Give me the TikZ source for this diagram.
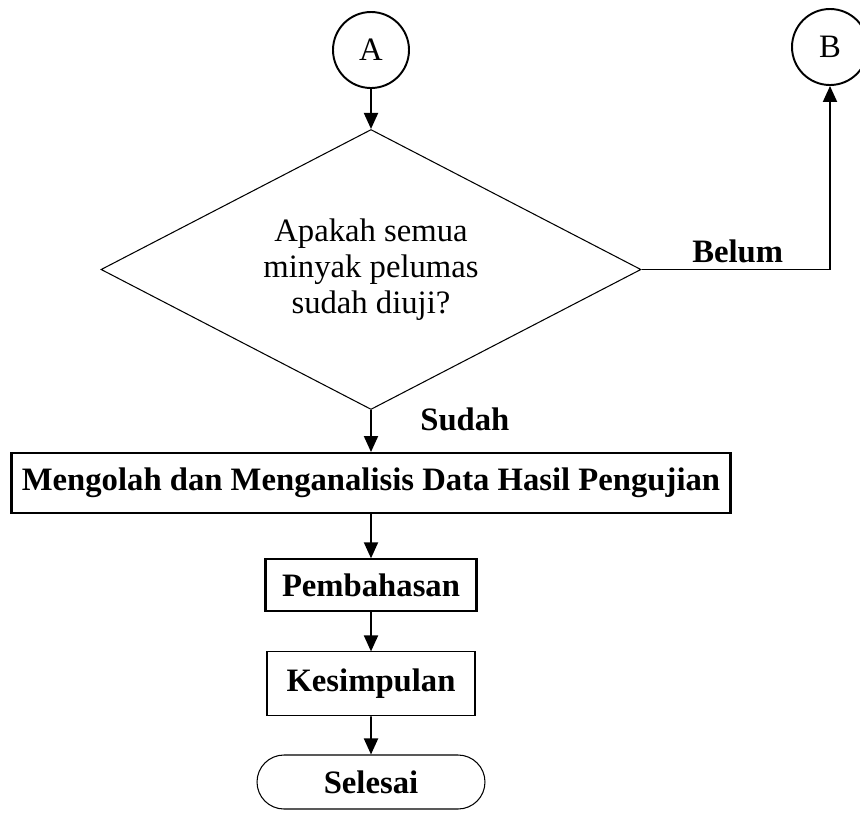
\documentclass[tikz,border=0pt]{standalone}
\usepackage{fontspec}
\setmainfont{Liberation Serif}
\usetikzlibrary{arrows.meta,shapes,positioning,calc}

\begin{document}
\begin{tikzpicture}[>={Triangle[length=0.32cm,width=0.28cm]},node distance=0.8cm,
  font=\fontsize{18.6}{20.5}\selectfont,
  conn/.style={circle,draw,line width=1.1pt,minimum size=1.52cm,inner sep=0pt},
  prosesbox/.style={draw,rectangle,inner sep=2pt,font=\fontsize{18.6}{20.5}\selectfont\bfseries},
  panah/.style={->,line width=1.1pt}]
  \useasboundingbox (0,0) rectangle (17.2,-16.24);
  \node[conn] (A) at (7.42,-1.0) {A};
  \node[conn] (B) at (16.6,-0.94) {B};
  \node[draw,diamond,aspect=1.93,line width=0.6pt,minimum width=10.8cm,minimum height=5.6cm,inner sep=0pt,align=center,below=0.8cm of A] (Q) {Apakah semua\\minyak pelumas\\sudah diuji?};
  \node[prosesbox,line width=1.3pt,minimum width=14.38cm,minimum height=1.2cm,below=0.84cm of Q] (olah) {Mengolah dan Menganalisis Data Hasil Pengujian};
  \node[prosesbox,line width=1.2pt,minimum width=4.22cm,minimum height=1.04cm,below=0.88cm of olah] (bahas) {Pembahasan};
  \node[prosesbox,line width=0.6pt,minimum width=4.16cm,minimum height=1.28cm,below=0.78cm of bahas] (simpul) {Kesimpulan};
  \node[prosesbox,rounded rectangle,line width=0.6pt,minimum width=4.7cm,minimum height=1.08cm,below=0.76cm of simpul] (selesai) {Selesai};
  \coordinate (belok) at (B.south |- Q.east);
  \draw[panah] (A) -- (Q);
  \draw[line width=0.6pt] (Q.east) -- node[pos=0.51,above,font=\fontsize{18.6}{20.5}\selectfont\bfseries] (belum) {Belum} (belok);
  \draw[panah] (belok) -- (B);
  \draw[panah] (Q) -- node[pos=0.22,right=0.85cm,font=\fontsize{18.6}{20.5}\selectfont\bfseries] (sudah) {Sudah} (olah);
  \draw[panah] (olah) -- (bahas);
  \draw[panah] (bahas) -- (simpul);
  \draw[panah] (simpul) -- (selesai);
\end{tikzpicture}
\end{document}
